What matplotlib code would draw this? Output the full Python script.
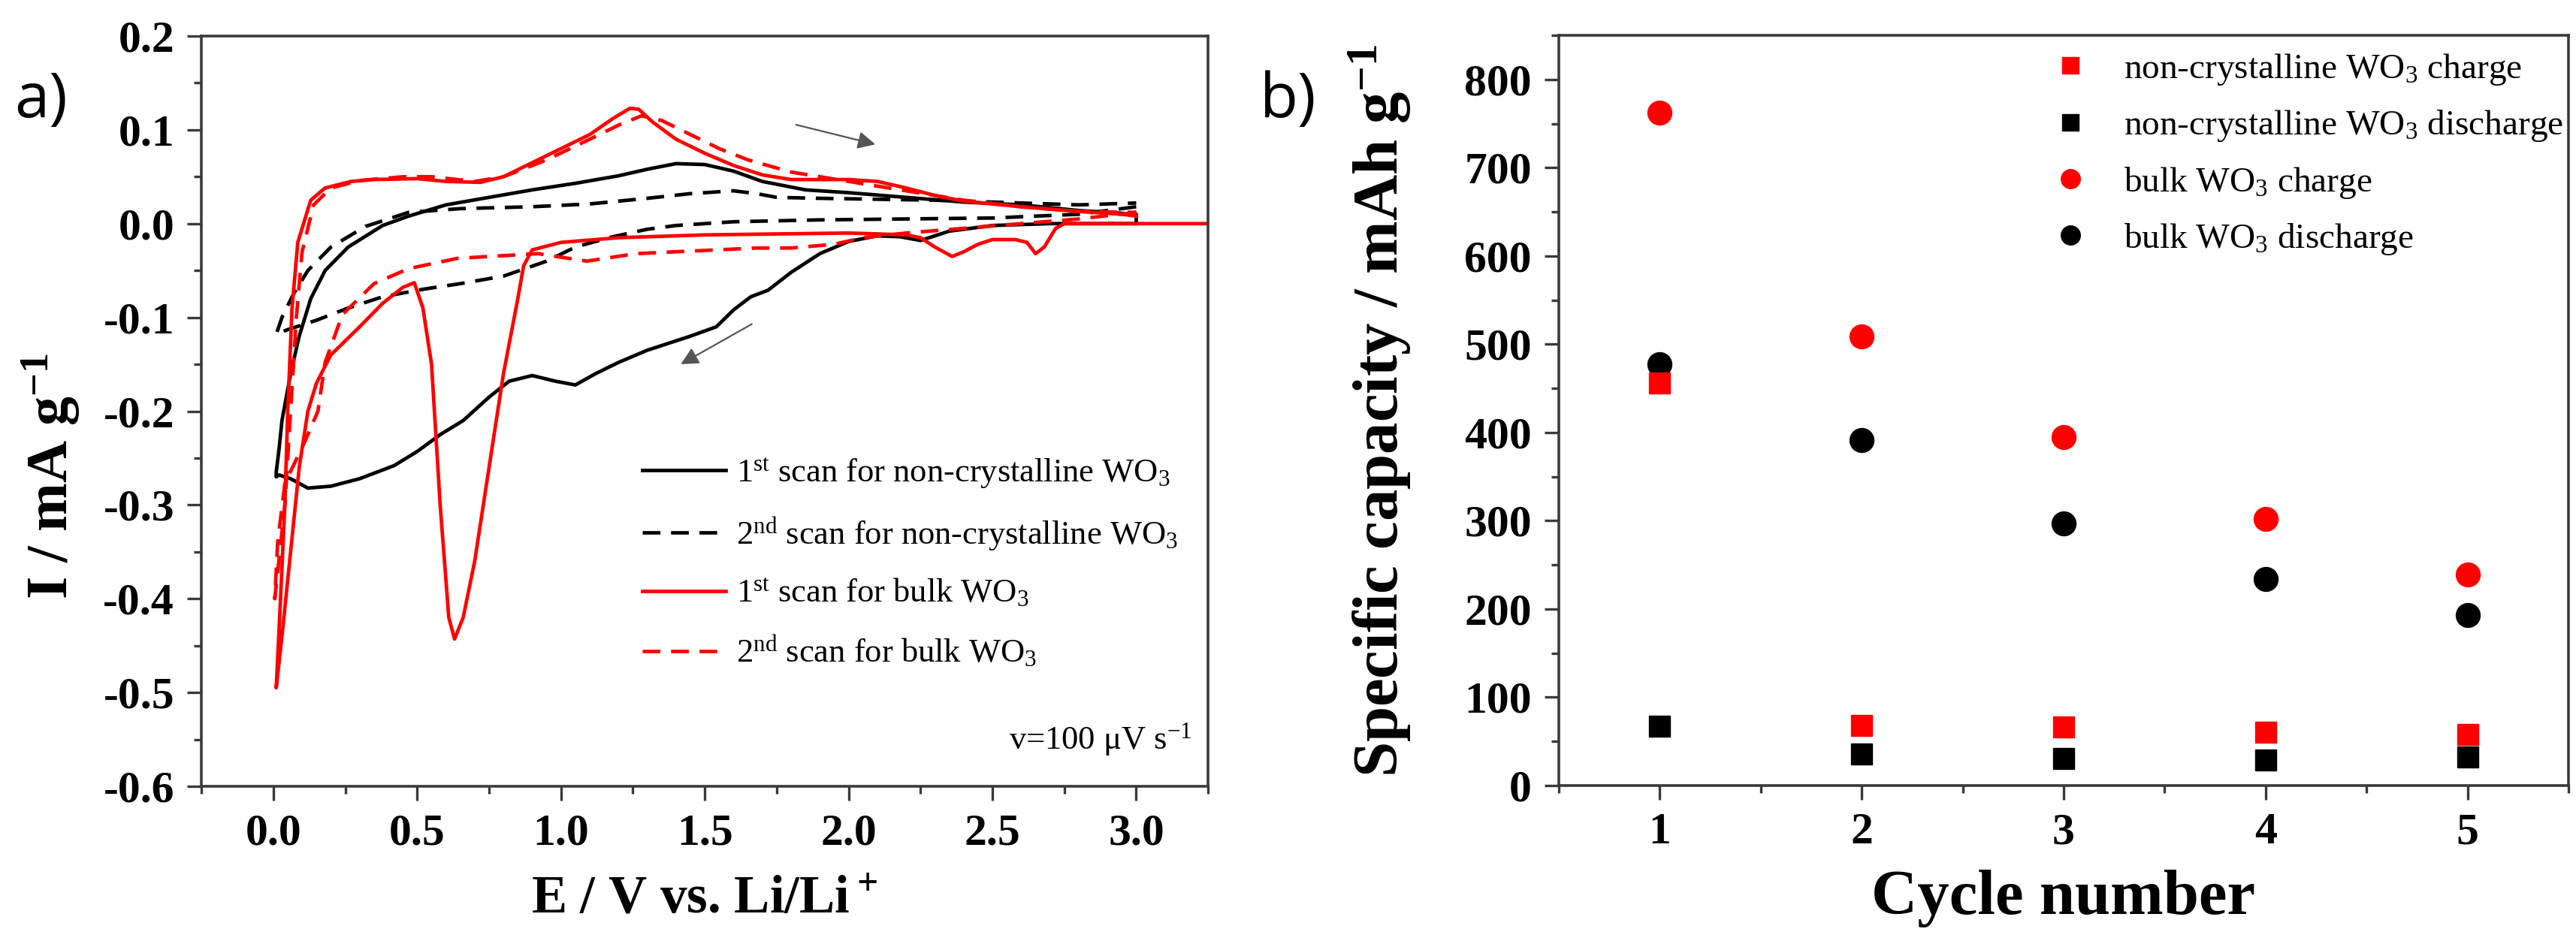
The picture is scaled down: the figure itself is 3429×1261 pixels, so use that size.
import numpy as np
import matplotlib
matplotlib.use('Agg')
import matplotlib.pyplot as plt
from matplotlib.ticker import MultipleLocator

plt.rcParams['font.family'] = ['Liberation Serif', 'DejaVu Serif']
plt.rcParams['mathtext.default'] = 'regular'

# ---- panel a: cyclic voltammograms (E in V, I in mA/g) ----
nc1_E = [3.0, 2.7, 2.5, 2.35, 2.25, 2.18, 2.1, 2.0, 1.9, 1.8, 1.72, 1.66, 1.6, 1.54, 1.45, 1.3,
         1.2, 1.12, 1.05, 0.98, 0.9, 0.82, 0.75, 0.66, 0.58, 0.5, 0.42, 0.3, 0.2, 0.12, 0.06,
         0.02, 0.01, 0.01, 0.02, 0.03, 0.06, 0.09, 0.13, 0.18, 0.26, 0.38, 0.47, 0.6, 0.75, 0.9,
         1.05, 1.2, 1.3, 1.4, 1.5, 1.6, 1.7, 1.85, 2.0, 2.2, 2.4, 2.6, 2.8, 3.0, 3.0]
nc1_I = [0.0, 0.0, -0.002, -0.008, -0.018, -0.014, -0.013, -0.019, -0.032, -0.052, -0.071, -0.078,
         -0.092, -0.11, -0.12, -0.135, -0.148, -0.16, -0.172, -0.168, -0.162, -0.168, -0.185,
         -0.21, -0.225, -0.243, -0.258, -0.272, -0.28, -0.282, -0.272, -0.268, -0.27, -0.265,
         -0.24, -0.21, -0.16, -0.12, -0.08, -0.05, -0.025, -0.002, 0.008, 0.02, 0.028, 0.036,
         0.043, 0.051, 0.058, 0.064, 0.063, 0.056, 0.045, 0.036, 0.033, 0.028, 0.023, 0.02,
         0.014, 0.01, 0.0]

nc2_E = [3.0, 2.8, 2.5, 2.2, 1.9, 1.6, 1.4, 1.3, 1.18, 1.05, 0.95, 0.8, 0.65, 0.52, 0.38, 0.26,
         0.15, 0.05, 0.01, 0.03, 0.07, 0.12, 0.2, 0.32, 0.47, 0.65, 0.9, 1.1, 1.3, 1.45, 1.6,
         1.68, 1.75, 1.9, 2.1, 2.3, 2.6, 2.8, 3.0]
nc2_I = [0.018, 0.01, 0.006, 0.005, 0.004, 0.002, -0.002, -0.006, -0.014, -0.025, -0.04, -0.056,
         -0.064, -0.07, -0.078, -0.09, -0.103, -0.113, -0.118, -0.1, -0.075, -0.05, -0.025,
         -0.003, 0.012, 0.016, 0.018, 0.021, 0.027, 0.032, 0.035, 0.032, 0.028, 0.027, 0.026,
         0.025, 0.022, 0.02, 0.022]

bulk1_E = [3.25, 3.0, 2.75, 2.72, 2.68, 2.65, 2.62, 2.58, 2.5, 2.45, 2.4, 2.36, 2.3, 2.25, 2.2,
           2.0, 1.5, 1.2, 1.0, 0.9, 0.87, 0.85, 0.8, 0.75, 0.7, 0.66, 0.63, 0.61, 0.58, 0.55,
           0.52, 0.49, 0.45, 0.38, 0.3, 0.2, 0.15, 0.12, 0.09, 0.06, 0.03, 0.01, 0.025, 0.04,
           0.05, 0.065, 0.085, 0.13, 0.18, 0.27, 0.35, 0.5, 0.6, 0.72, 0.8, 0.9, 1.0, 1.1, 1.18,
           1.24, 1.27, 1.32, 1.4, 1.5, 1.6, 1.7, 1.8, 2.0, 2.1, 2.2, 2.3, 2.4, 2.6, 2.8, 2.95, 3.0]
bulk1_I = [0.0, 0.0, 0.0, -0.005, -0.025, -0.032, -0.02, -0.017, -0.017, -0.022, -0.03, -0.035,
           -0.025, -0.015, -0.012, -0.01, -0.012, -0.015, -0.02, -0.028, -0.045, -0.08, -0.16,
           -0.26, -0.36, -0.42, -0.443, -0.42, -0.3, -0.15, -0.09, -0.063, -0.068, -0.085, -0.11,
           -0.14, -0.17, -0.2, -0.26, -0.35, -0.44, -0.495, -0.4, -0.3, -0.2, -0.09, -0.02, 0.025,
           0.038, 0.045, 0.047, 0.048, 0.045, 0.044, 0.05, 0.065, 0.08, 0.095, 0.112, 0.123,
           0.122, 0.108, 0.09, 0.075, 0.062, 0.052, 0.047, 0.047, 0.045, 0.038, 0.03, 0.024,
           0.018, 0.013, 0.01, 0.008]

bulk2_E = [3.0, 2.8, 2.6, 2.4, 2.2, 2.05, 1.95, 1.8, 1.68, 1.4, 1.26, 1.09, 0.92, 0.64, 0.47,
           0.35, 0.24, 0.18, 0.155, 0.11, 0.04, 0.015, 0.005, 0.04, 0.06, 0.08, 0.1, 0.14, 0.2,
           0.3, 0.45, 0.55, 0.7, 0.8, 0.95, 1.1, 1.2, 1.28, 1.35, 1.45, 1.55, 1.65, 1.8, 2.0,
           2.2, 2.4, 2.6, 2.8, 3.0]
bulk2_I = [0.012, 0.005, 0.0, -0.005, -0.01, -0.015, -0.022, -0.026, -0.026, -0.03, -0.032, -0.04,
           -0.032, -0.037, -0.048, -0.064, -0.097, -0.148, -0.2, -0.232, -0.277, -0.34, -0.4,
           -0.3, -0.2, -0.1, -0.03, 0.02, 0.038, 0.046, 0.05, 0.05, 0.045, 0.05, 0.068, 0.09,
           0.105, 0.115, 0.11, 0.095, 0.08, 0.068, 0.055, 0.045, 0.035, 0.025, 0.018, 0.013,
           0.012]

# ---- panel b: specific capacity (mAh/g) vs cycle ----
cycles = [1, 2, 3, 4, 5]
nc_charge = [456, 68, 66, 60, 58]
nc_discharge = [67, 36, 31, 29, 32]
bulk_charge = [762, 509, 395, 302, 239]
bulk_discharge = [477, 391, 297, 234, 193]

RED = '#ff0000'
SPINE = '#3a3a3a'

fig = plt.figure(figsize=(34.29, 12.61), dpi=100)
ax1 = fig.add_axes([0.0782, 0.1697, 0.3908, 0.7922])
ax2 = fig.add_axes([0.6051, 0.1705, 0.3920, 0.7922])

for ax in (ax1, ax2):
    for s in ax.spines.values():
        s.set_linewidth(2.6)
        s.set_color(SPINE)
    ax.tick_params(which='both', direction='out', top=False, right=False,
                   width=2.4, color=SPINE)
    ax.tick_params(which='major', length=14, labelsize=43, pad=12)
    ax.tick_params(which='minor', length=7)

lw = 3.4
ax1.plot(nc1_E, nc1_I, color='black', lw=lw,
         label='1$^{st}$ scan for non-crystalline WO$_3$')
ax1.plot(nc2_E, nc2_I, color='black', lw=lw, ls=(0, (5, 3)),
         label='2$^{nd}$ scan for non-crystalline WO$_3$')
ax1.plot(bulk1_E, bulk1_I, color=RED, lw=lw, label='1$^{st}$ scan for bulk WO$_3$')
ax1.plot(bulk2_E, bulk2_I, color=RED, lw=lw, ls=(0, (5, 3)),
         label='2$^{nd}$ scan for bulk WO$_3$')

ax1.annotate('', xy=(2.1, 0.084), xytext=(1.81, 0.106),
             arrowprops=dict(arrowstyle='-|>', color='#555555', lw=1.6, mutation_scale=35))
ax1.annotate('', xy=(1.41, -0.151), xytext=(1.67, -0.106),
             arrowprops=dict(arrowstyle='-|>', color='#555555', lw=1.6, mutation_scale=35))

ax1.set_xlim(-0.25, 3.25)
ax1.set_ylim(-0.6, 0.2)
ax1.xaxis.set_minor_locator(MultipleLocator(0.25))
ax1.yaxis.set_minor_locator(MultipleLocator(0.05))
ax1.set_xticks([0, 0.5, 1.0, 1.5, 2.0, 2.5, 3.0])
ax1.set_xticklabels(['0.0', '0.5', '1.0', '1.5', '2.0', '2.5', '3.0'], fontweight='bold')
yt = [-0.6, -0.5, -0.4, -0.3, -0.2, -0.1, 0.0, 0.1, 0.2]
ax1.set_yticks(yt)
ax1.set_yticklabels([f'{v:.1f}' for v in yt], fontweight='bold')
ax1.set_xlabel('E / V vs. Li/Li$^+$', fontsize=51, fontweight='bold')
ax1.set_ylabel('I / mA g$^{-1}$', fontsize=56, fontweight='bold')
ax1.xaxis.set_label_coords(0.5, -0.118)
ax1.yaxis.set_label_coords(-0.119, 0.413)
ax1.legend(loc='upper left', bbox_to_anchor=(0.438, 0.44), frameon=False, fontsize=32,
           handlelength=2.5, handletextpad=0.3, labelspacing=0.75, borderpad=0,
           borderaxespad=0)
ax1.text(0.984, 0.05, 'v=100 \u03bcV s$^{-1}$', transform=ax1.transAxes, ha='right',
         va='baseline', fontsize=32)

ax2.plot(cycles, bulk_discharge, 'o', color='black', ms=23, zorder=3,
         label='bulk WO$_3$ discharge')
ax2.plot(cycles, bulk_charge, 'o', color=RED, ms=23, zorder=3, label='bulk WO$_3$ charge')
ax2.plot(cycles, nc_discharge, 's', color='black', ms=20, zorder=4,
         label='non-crystalline WO$_3$ discharge')
ax2.plot(cycles, nc_charge, 's', color=RED, ms=20, zorder=4,
         label='non-crystalline WO$_3$ charge')
h, l = ax2.get_legend_handles_labels()
order = [3, 2, 1, 0]
ax2.legend([h[i] for i in order], [l[i] for i in order], loc='upper left',
           bbox_to_anchor=(0.489, 0.978), frameon=False, fontsize=34, handlelength=1.0,
           handletextpad=1.0, labelspacing=0.6, borderpad=0, borderaxespad=0,
           markerscale=0.8)

ax2.set_xlim(0.5, 5.5)
ax2.set_ylim(0, 850)
ax2.xaxis.set_minor_locator(MultipleLocator(0.5))
ax2.yaxis.set_minor_locator(MultipleLocator(50))
ax2.set_xticks(cycles)
ax2.set_xticklabels([str(c) for c in cycles], fontweight='bold')
ax2.set_yticks(range(0, 900, 100))
ax2.set_yticklabels([str(v) for v in range(0, 900, 100)], fontweight='bold')
ax2.set_xlabel('Cycle number', fontsize=61, fontweight='bold')
ax2.set_ylabel('Specific capacity / mAh g$^{-1}$', fontsize=61, fontweight='bold')
ax2.xaxis.set_label_coords(0.5, -0.112)
ax2.yaxis.set_label_coords(-0.144, 0.5)

fig.text(0.016, 0.893, 'a)', fontsize=60, family='Open Sans', va='center', ha='center')
fig.text(0.500, 0.893, 'b)', fontsize=60, family='Open Sans', va='center', ha='center')

fig.savefig('out.png', dpi=100, facecolor='white')
